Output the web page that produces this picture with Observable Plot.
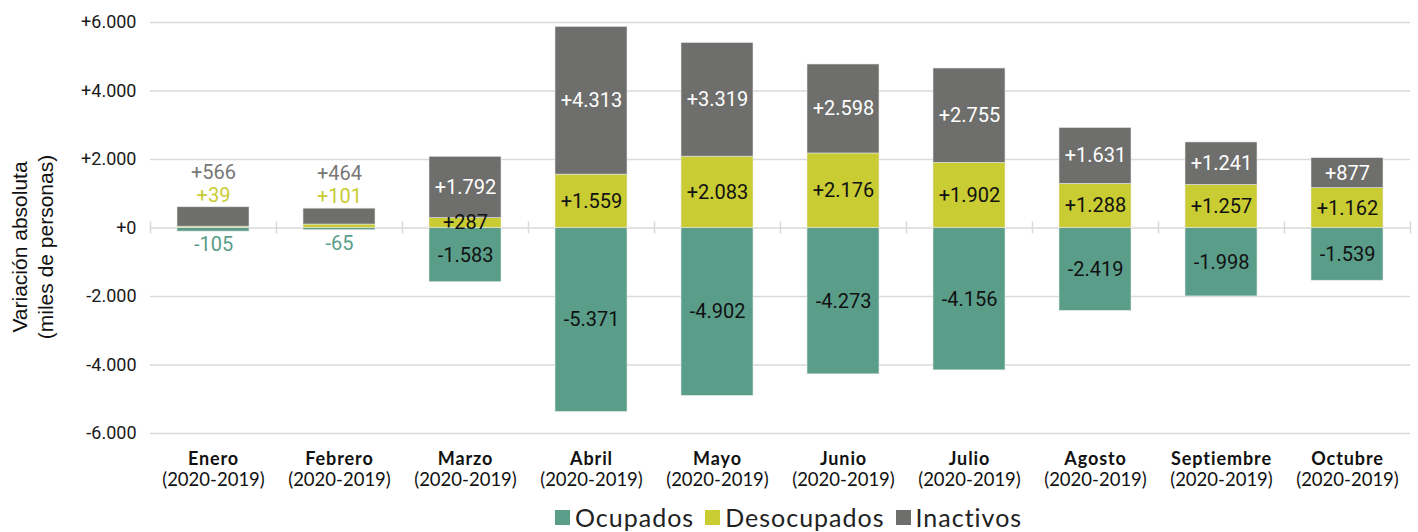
<!DOCTYPE html>
<html><head><meta charset="utf-8">
<script src="https://cdn.jsdelivr.net/npm/d3@7"></script>
<script src="https://cdn.jsdelivr.net/npm/@observablehq/plot@0.6"></script>
<style>
body{margin:0;background:#fff;}
#legend{position:relative;height:32px;font-family:Lato, sans-serif;font-size:25px;letter-spacing:1px;color:#222;}
#legend .inner{position:absolute;left:555px;top:2px;display:flex;align-items:center;}
.sw{width:15px;height:15px;display:inline-block;margin-right:5px;}
.it{display:flex;align-items:center;margin-right:11px;}
</style></head><body>
<div id="chart"></div>
<div id="legend"><div class="inner"></div></div>
<script>
const months = ["Enero","Febrero","Marzo","Abril","Mayo","Junio","Julio","Agosto","Septiembre","Octubre"];
const period = "(2020-2019)";
const ocupados = [-105, -65, -1583, -5371, -4902, -4273, -4156, -2419, -1998, -1539];
const desocupados = [39, 101, 287, 1559, 2083, 2176, 1902, 1288, 1257, 1162];
const inactivos = [566, 464, 1792, 4313, 3319, 2598, 2755, 1631, 1241, 877];
const yTicks = [-6000, -4000, -2000, 0, 2000, 4000, 6000];
const seriesNames = ["Ocupados", "Desocupados", "Inactivos"];
const colors = ["#5a9e8a", "#c9cc33", "#6e6e6c"];
const outsideColors = ["#5a9e8a", "#c9cc33", "#777777"];

const W = 1418, H = 500, mL = 150, mR = 8, mT = 22, mB = 67;
const step = (W - mL - mR) / months.length;

const fmt = v => (v < 0 ? "-" : "+") + d3.format(",")(Math.abs(v)).replace(/,/g, ".");

const segs = [];
months.forEach((m, i) => {
  const o = ocupados[i], d = desocupados[i], n = inactivos[i];
  const small = Math.abs(o) + d + n < 1000;
  segs.push({month: m, s: 0, y1: 0, y2: o, v: o, small, top: d + n});
  segs.push({month: m, s: 1, y1: 0, y2: d, v: d, small, top: d + n});
  segs.push({month: m, s: 2, y1: d, y2: d + n, v: n, small, top: d + n});
});
const inside = segs.filter(s => !s.small);
const outside = segs.filter(s => s.small);

const plot = Plot.plot({
  width: W, height: H,
  marginLeft: mL, marginRight: mR, marginTop: mT, marginBottom: mB,
  style: {fontFamily: "Roboto, sans-serif", background: "#fff"},
  x: {type: "band", domain: months, paddingInner: 0.43, paddingOuter: 0.215, axis: null},
  y: {domain: [-6000, 6000], axis: null},
  marks: [
    Plot.ruleY(yTicks, {y: d => d, stroke: "#d9d9d9", strokeWidth: 1.5}),
    Plot.ruleX(months, {x: d => d, dx: -step / 2, y1: -175, y2: 175, stroke: "#d9d9d9", strokeWidth: 1.5}),
    Plot.ruleX(months.slice(-1), {x: d => d, dx: step / 2, y1: -175, y2: 175, stroke: "#d9d9d9", strokeWidth: 1.5}),
    Plot.barY(segs, {x: "month", y1: "y1", y2: "y2", fill: d => colors[d.s], stroke: "#e6e6e6", strokeWidth: 0.6}),
    Plot.axisY({ticks: yTicks, tickFormat: fmt, tickSize: 0, tickPadding: 14, fontSize: 18, fill: "#1a1a1a", anchor: "left"}),
    Plot.text(inside, {x: "month", y: d => (d.y1 + d.y2) / 2, text: d => fmt(d.v),
      fill: d => d.s === 2 ? "#ffffff" : "#111111", fontSize: 20}),
    Plot.text(outside.filter(d => d.s === 2), {x: "month", y: "top", text: d => fmt(d.v), fill: outsideColors[2], fontSize: 20, dy: -35}),
    Plot.text(outside.filter(d => d.s === 1), {x: "month", y: "top", text: d => fmt(d.v), fill: outsideColors[1], fontSize: 20, dy: -12}),
    Plot.text(outside.filter(d => d.s === 0), {x: "month", y: "y2", text: d => fmt(d.v), fill: outsideColors[0], fontSize: 20, dy: 13}),
    Plot.text(months, {x: d => d, frameAnchor: "bottom", dy: 31, text: d => d, fontWeight: "bold", fontSize: 18, fontFamily: "Lato, sans-serif", fill: "#111"}),
    Plot.text(months, {x: d => d, frameAnchor: "bottom", dy: 52, text: () => period, fontSize: 18.5, fontFamily: "Lato, sans-serif", fill: "#111"}),
    Plot.text(["Variación absoluta\n(miles de personas)"], {frameAnchor: "left", textAnchor: "middle", dx: -119, dy: 19, rotate: -90, fontSize: 21, lineHeight: 1.25, fontFamily: "'Liberation Sans', Arial, sans-serif", fill: "#111"})
  ]
});
d3.select(plot).selectAll("text").filter(function() { return months.includes(this.textContent); })
  .style("letter-spacing", "0.9px");
document.getElementById("chart").appendChild(plot);

const inner = document.querySelector("#legend .inner");
seriesNames.forEach((n, i) => {
  const it = document.createElement("span"); it.className = "it";
  const sw = document.createElement("span"); sw.className = "sw"; sw.style.background = colors[i];
  it.appendChild(sw); it.appendChild(document.createTextNode(n));
  inner.appendChild(it);
});
</script>
</body></html>
